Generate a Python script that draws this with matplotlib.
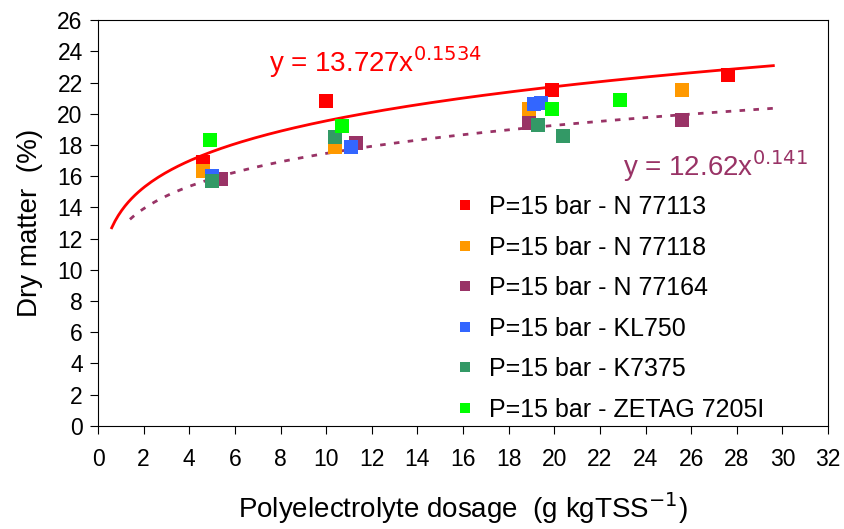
import numpy as np
import matplotlib.pyplot as plt

plt.rcParams['font.family'] = ['Liberation Sans', 'DejaVu Sans']

labels = ["P=15 bar - N 77113", "P=15 bar - N 77118", "P=15 bar - N 77164",
          "P=15 bar - KL750", "P=15 bar - K7375", "P=15 bar - ZETAG 7205I"]
colors = ["#ff0000", "#ff9900", "#993366", "#3366ff", "#339966", "#00ff00"]

x_n77113 = [4.6, 10.0, 19.9, 27.6]
y_n77113 = [16.9, 20.8, 21.5, 22.5]
x_n77118 = [4.6, 10.4, 18.9, 25.6]
y_n77118 = [16.3, 17.9, 20.3, 21.5]
x_n77164 = [5.4, 11.3, 18.9, 25.6]
y_n77164 = [15.8, 18.1, 19.4, 19.6]
x_kl750 = [5.0, 11.1, 19.1, 19.4]
y_kl750 = [16.0, 17.9, 20.6, 20.7]
x_k7375 = [5.0, 10.4, 19.3, 20.4]
y_k7375 = [15.7, 18.5, 19.3, 18.6]
x_zetag = [4.9, 10.7, 19.9, 22.9]
y_zetag = [18.3, 19.2, 20.3, 20.9]

xs = [x_n77113, x_n77118, x_n77164, x_kl750, x_k7375, x_zetag]
ys = [y_n77113, y_n77118, y_n77164, y_kl750, y_k7375, y_zetag]

# power-law trend lines
fit1 = (13.727, 0.1534, 0.6, 29.6)
fit2 = (12.62, 0.141, 1.4, 29.6)


def main():
    fig = plt.figure(figsize=(8.45, 5.29), dpi=100)
    ax = fig.add_axes([0.116, 0.195, 0.864, 0.767])

    a, b, x0, x1 = fit1
    xx = np.linspace(x0, x1, 200)
    ax.plot(xx, a * xx ** b, color="#ff0000", lw=2, zorder=2)
    a, b, x0, x1 = fit2
    xx = np.linspace(x0, x1, 200)
    ax.plot(xx, a * xx ** b, color="#993366", lw=2, ls=(0, (2, 3)), zorder=2)

    for x, y, c, lab in zip(xs, ys, colors, labels):
        ax.scatter(x, y, marker="s", s=110, color=c, label=lab, zorder=3,
                   linewidths=0)

    ax.text(7.5, 22.7, "y = 13.727x$^{0.1534}$", color="#ff0000", fontsize=20)
    ax.text(23.0, 16.0, "y = 12.62x$^{0.141}$", color="#993366", fontsize=20)

    ax.set_xlim(0, 32)
    ax.set_ylim(0, 26)
    ax.set_xticks(np.arange(0, 33, 2))
    ax.set_yticks(np.arange(0, 27, 2))
    ax.tick_params(labelsize=16.5, length=6, direction="out")
    ax.tick_params(axis="x", pad=10)
    ax.tick_params(axis="y", pad=5)
    ax.set_xlabel("Polyelectrolyte dosage  (g kgTSS$^{-1}$)", fontsize=20, labelpad=14)
    ax.set_ylabel("Dry matter  (%)", fontsize=20, labelpad=10)

    ax.legend(loc="lower left", bbox_to_anchor=(0.455, -0.045), frameon=False,
              fontsize=18, markerscale=0.75, handlelength=1.0,
              handletextpad=0.45, labelspacing=0.66, scatteryoffsets=[0.5])

    fig.savefig("out.png", dpi=100)


if __name__ == "__main__":
    main()
